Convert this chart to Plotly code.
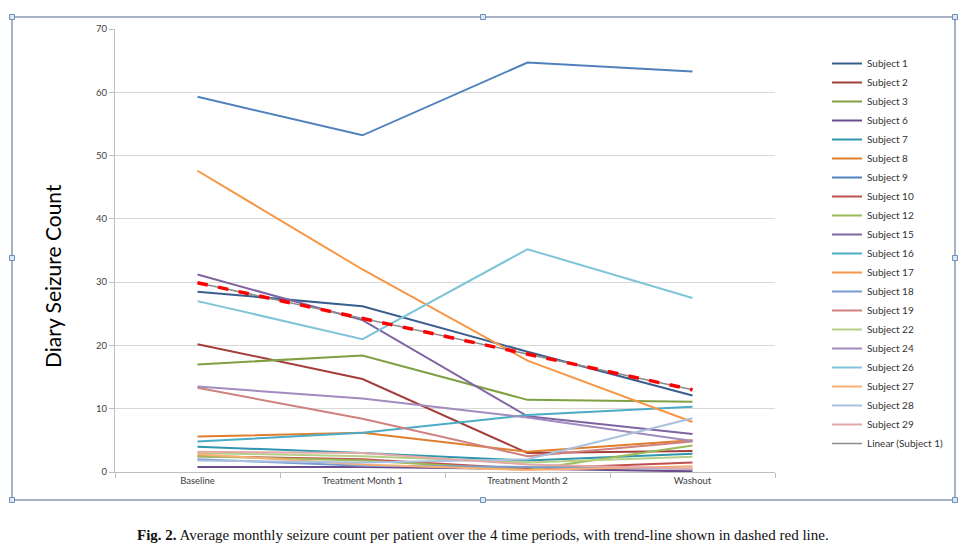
import numpy as np
import plotly.graph_objects as go

periods = ["Baseline", "Treatment Month 1", "Treatment Month 2", "Washout"]

subjects = ["Subject 1", "Subject 2", "Subject 3", "Subject 6", "Subject 7", "Subject 8",
            "Subject 9", "Subject 10", "Subject 12", "Subject 15", "Subject 16", "Subject 17",
            "Subject 18", "Subject 19", "Subject 22", "Subject 24", "Subject 26", "Subject 27",
            "Subject 28", "Subject 29"]

s1 = [28.5, 26.2, 19.0, 12.1]
s2 = [20.2, 14.7, 3.0, 3.3]
s3 = [17.0, 18.4, 11.4, 11.1]
s6 = [0.8, 0.8, 0.5, 0.1]
s7 = [4.0, 3.0, 1.8, 2.9]
s8 = [5.6, 6.2, 3.2, 5.0]
s9 = [59.3, 53.2, 64.7, 63.3]
s10 = [2.5, 2.0, 0.5, 1.5]
s12 = [2.5, 1.8, 0.3, 4.2]
s15 = [31.2, 24.0, 8.8, 6.0]
s16 = [4.8, 6.2, 9.0, 10.3]
s17 = [47.6, 32.0, 17.6, 7.9]
s18 = [2.0, 1.0, 0.8, 0.5]
s19 = [13.3, 8.4, 2.5, 4.8]
s22 = [3.0, 2.5, 1.5, 2.4]
s24 = [13.5, 11.6, 8.6, 4.9]
s26 = [27.0, 21.0, 35.2, 27.5]
s27 = [2.8, 1.2, 0.3, 0.9]
s28 = [1.8, 1.5, 2.0, 8.5]
s29 = [3.2, 3.0, 1.2, 0.5]

values = [s1, s2, s3, s6, s7, s8, s9, s10, s12, s15, s16, s17, s18, s19, s22, s24, s26, s27, s28, s29]

colors = ["#3A5F8F", "#A33E3B", "#7FA043", "#6A4C8C", "#2E97AE", "#E07E2C",
          "#4F81BD", "#C0504D", "#9BBB59", "#8064A2", "#4BACC6", "#F79646",
          "#7A9CD0", "#D0807E", "#B5CF87", "#A28BBE", "#7FC4D8", "#F9B076",
          "#A9C0DF", "#E3A9A8"]

fig = go.Figure()
for name, vals, col in zip(subjects, values, colors):
    fig.add_trace(go.Scatter(x=periods, y=vals, mode="lines", name=name,
                             line=dict(color=col, width=2)))

# Linear trend line of Subject 1
xi = np.arange(len(periods))
slope, icpt = np.polyfit(xi, s1, 1)
trend = list(icpt + slope * xi)
fig.add_trace(go.Scatter(x=periods, y=trend, mode="lines", name="Linear (Subject 1)",
                         line=dict(color="#8C8C8C", width=1.5)))
fig.add_trace(go.Scatter(x=periods, y=trend, mode="lines", showlegend=False,
                         line=dict(color="#FF0000", width=3.5, dash="dash")))

# page offset (browser body margin)
OFF = 8
W, H = 966 - OFF, 551 - OFF
PL, PR, PT, PB = 115, 775, 29, 472   # plot area in page pixels
L, T = PL - OFF, PT - OFF
R, B = W - (PR - OFF), H - (PB - OFF)
pw, ph = PR - PL, PB - PT

def px(x):
    return (x - PL) / pw

def py(y):
    return (PB - y) / ph

shapes = [dict(type="rect", xref="paper", yref="paper",
               x0=px(12), x1=px(955), y0=py(500), y1=py(17),
               line=dict(color="#8A9BB3", width=1.5), layer="below")]
for hx, hy in [(12, 17), (483, 17), (955, 17), (12, 258), (955, 258), (12, 500), (483, 500), (955, 500)]:
    shapes.append(dict(type="rect", xref="paper", yref="paper",
                       x0=px(hx - 2.5), x1=px(hx + 2.5), y0=py(hy + 2.5), y1=py(hy - 2.5),
                       line=dict(color="#6F8FB8", width=1), fillcolor="#DCE8F5"))

fig.update_layout(
    width=W, height=H,
    margin=dict(l=L, r=R, t=T, b=B),
    paper_bgcolor="white", plot_bgcolor="white",
    font=dict(family="Lato, Liberation Sans, sans-serif", color="#404040"),
    showlegend=True,
    legend=dict(x=px(827), y=py(49), xanchor="left", yanchor="top",
                font=dict(size=10, family="Lato, Liberation Sans, sans-serif",
                          color="#333333"), tracegroupgap=0,
                bgcolor="rgba(0,0,0,0)", itemwidth=30),
    xaxis=dict(type="category", showgrid=False, showline=True, linecolor="#BFBFBF",
               linewidth=1, ticks="outside", tickson="boundaries", ticklen=5,
               tickcolor="#BFBFBF", tickfont=dict(size=9.5, color="#404040"),
               range=[-0.5, 3.5], fixedrange=True),
    yaxis=dict(range=[0, 70], dtick=10, showgrid=True, gridcolor="#D9D9D9", gridwidth=1,
               showline=True, linecolor="#BFBFBF", ticks="outside", ticklen=5,
               tickcolor="#BFBFBF", tickfont=dict(size=9.5, color="#404040"),
               zeroline=False),
    shapes=shapes,
    annotations=[
        dict(text="Diary Seizure Count", xref="paper", yref="paper",
             x=px(52), y=py(276), xanchor="center", yanchor="middle",
             textangle=-90, showarrow=False,
             font=dict(family="Lato, Liberation Sans, sans-serif", size=21, color="#000000")),
        dict(text="<b>Fig. 2.</b> Average monthly seizure count per patient over the 4 time periods, with trend-line shown in dashed red line.",
             xref="paper", yref="paper", x=px(483), y=py(535),
             xanchor="center", yanchor="middle", showarrow=False,
             font=dict(family="Liberation Serif, serif", size=15, color="#111111"))],
)

fig.write_html("out.html")
